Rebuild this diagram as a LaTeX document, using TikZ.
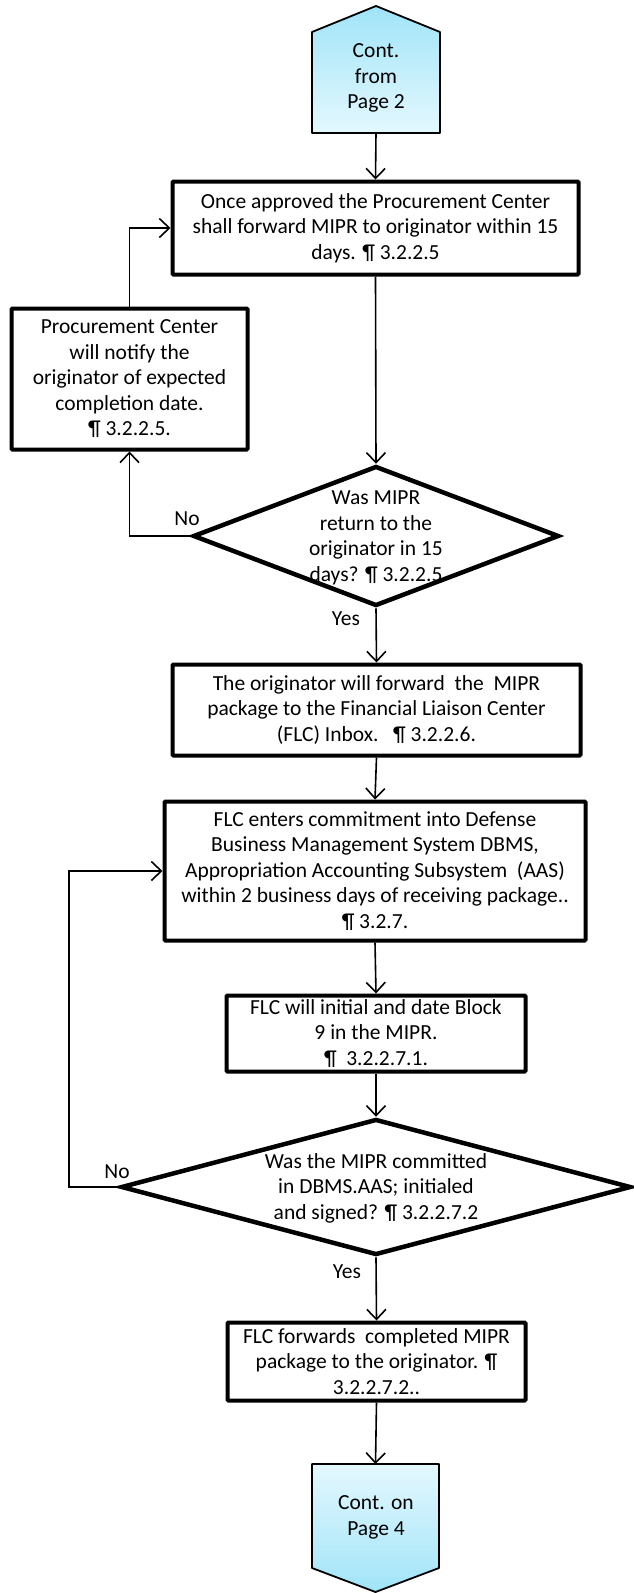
\documentclass[tikz,border=0pt]{standalone}
\usepackage{fontspec}
\setmainfont{Carlito}
\usetikzlibrary{shapes.geometric,arrows.meta,calc}
\definecolor{cyandark}{RGB}{160,228,248}
\definecolor{cyanlight}{RGB}{228,248,254}
\begin{document}
\begin{tikzpicture}[x=1pt,y=-1pt,
  every node/.style={font=\fontsize{21.5}{25.5}\selectfont, text=black},
  box/.style={draw=black, line width=4pt, rounded corners=1pt, align=center, inner sep=0pt, fill=white},
  dia/.style={draw=black, diamond, line width=4.5pt, inner sep=0pt, aspect=2},
  txt/.style={align=center, inner sep=0pt},
  holder/.style={inner sep=0pt, outer sep=0pt},
  conn/.style={line width=1.6pt, -{Straight Barb[length=10pt,width=19pt,line width=1.6pt]}},
  lbl/.style={inner sep=0pt}]
\useasboundingbox (0,0) rectangle (633,1593);

% top off-page connector
\node[holder, minimum width=128, minimum height=101] (p1) at (376,82.5) {};
\path[draw=black, line width=1.8pt, line join=round, top color=cyandark, bottom color=cyanlight]
  (p1.south west) -- (p1.north west) -- ($(p1.north)+(0,-26)$) -- (p1.north east) -- (p1.south east) -- cycle;
\node[txt] (p1t) at (376,78) {Cont.\\from\\Page 2};

% boxes
\node[box, minimum width=406, minimum height=93] (b1) at (375.5,228)
  {Once approved the Procurement Center\\shall forward MIPR to originator within 15\\days. ¶ 3.2.2.5};
\node[box, minimum width=236, minimum height=141] (lb) at (129.5,379)
  {Procurement Center\\will notify the\\originator of expected\\completion date.\\¶ 3.2.2.5.};
\node[dia, minimum width=366, minimum height=140] (d1) at (376,536) {};
\node[txt] (d1t) at (376,538) {Was MIPR\\return to the\\originator in 15\\days? ¶ 3.2.2.5};
\node[box, minimum width=408, minimum height=91] (b3) at (376.5,710)
  {The originator will forward\ \ the\ \ MIPR\\package to the Financial Liaison Center\\(FLC) Inbox.\ \ \ ¶ 3.2.2.6.};
\node[box, minimum width=421, minimum height=139] (b4) at (375,871)
  {FLC enters commitment into Defense\\Business Management System DBMS,\\Appropriation Accounting Subsystem\ \ (AAS)\\within 2 business days of receiving package..\\¶ 3.2.7.};
\node[box, minimum width=299, minimum height=76] (b5) at (376,1033.5)
  {FLC will initial and date Block\\9 in the MIPR.\\¶\ \ 3.2.2.7.1.};
\node[dia, minimum width=510, minimum height=136] (d2) at (376,1187) {};
\node[txt] (d2t) at (376,1188) {Was the MIPR committed\\in DBMS.AAS; initialed\\and signed? ¶ 3.2.2.7.2};
\node[box, minimum width=298, minimum height=78] (b6) at (376.5,1361.5)
  {FLC forwards\ \ completed MIPR\\package to the originator. ¶\\3.2.2.7.2..};

% bottom off-page connector
\node[holder, minimum width=127, minimum height=104] (p2) at (375.5,1516) {};
\path[draw=black, line width=1.8pt, line join=round, top color=cyanlight, bottom color=cyandark]
  (p2.north west) -- (p2.north east) -- (p2.south east) -- ($(p2.south)+(0,24)$) -- (p2.south west) -- cycle;
\node[txt] (p2t) at (376,1517.5) {Cont. on\\Page 4};

% labels
\node[lbl] (no1) at (187,519) {No};
\node[lbl] (yes1) at (346,619) {Yes};
\node[lbl] (no2) at (117,1172) {No};
\node[lbl] (yes2) at (347,1272) {Yes};

\coordinate (loopx) at (69,0);

% connectors
\draw[conn] (p1.south) -- (b1.north);
\draw[conn] (b1.south) -- (d1.north);
\draw[conn] (d1.west) -- (d1.west -| lb.south) -- (lb.south);
\draw[conn] (lb.north) -- (lb.north |- b1.west) -- (b1.west);
\draw[conn] (d1.south) -- (b3.north);
\draw[conn] (b3.south) -- (b4.north);
\draw[conn] (b4.south) -- (b5.north);
\draw[conn] (b5.south) -- (d2.north);
\draw[conn] (d2.west) -- (d2.west -| loopx) -- (b4.west -| loopx) -- (b4.west);
\draw[conn] (d2.south) -- (b6.north);
\draw[conn] (b6.south) -- (p2.north);
\end{tikzpicture}
\end{document}
